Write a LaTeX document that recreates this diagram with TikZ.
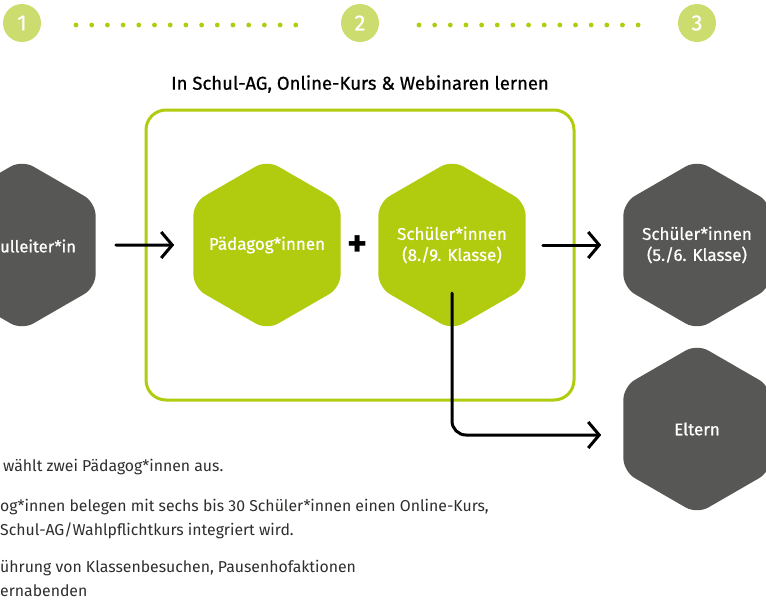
\documentclass[tikz,border=0pt]{standalone}
\usepackage{fontspec}
\setmainfont{Fira Sans}
\newfontfamily\medfont{Fira Sans}[FakeBold=0.7]
\usetikzlibrary{shapes.geometric,arrows.meta}
\definecolor{limeGreen}{HTML}{B1CB0E}
\definecolor{paleLime}{HTML}{CCDC6E}
\definecolor{darkGrey}{HTML}{575756}
\definecolor{textGrey}{HTML}{2E2E2D}

\begin{document}
\begin{tikzpicture}
[x=1pt,y=-1pt,
  hexGreen/.style={shape=regular polygon,regular polygon sides=6,shape border rotate=90,
    minimum size=170pt,inner sep=-16pt,rounded corners=13pt,fill=limeGreen,
    text=white,align=center,font=\medfont\fontsize{17}{21}\selectfont},%
  hexDark/.style={hexGreen,fill=darkGrey},%
  stepNum/.style={shape=circle,fill=paleLime,minimum size=38pt,inner sep=0pt,
    text=white,font=\medfont\fontsize{22}{22}\selectfont},%
  arrowLine/.style={line width=3pt,line cap=round,-{Straight Barb[length=11pt,width=26pt]}},%
  groupFrame/.style={line width=3pt,draw=limeGreen,rounded corners=20pt},%
  bodyText/.style={anchor=base west,inner sep=0pt,text=textGrey,font=\fontsize{15.8}{19}\selectfont}]
\useasboundingbox (0,0) rectangle (766,600);
\clip (0,0) rectangle (766,600);
%% steps on top
\foreach \nodename/\x/\num in {stepa/22/1, stepb/360/2, stepc/697/3}
{
  \node (\nodename) at (\x,23) [stepNum] {\num};
}
\foreach \i in {0,...,14}
{
  \fill[limeGreen] ({76+\i*15.7},25) circle (2.4pt);
  \fill[limeGreen] ({419+\i*15.65},25) circle (2.4pt);
}
%% group frame
\node (title) at (360,84) [font=\medfont\fontsize{18.5}{22}\selectfont] {In Schul-AG, Online-Kurs \& Webinaren lernen};
\draw[groupFrame] (146,110) rectangle (574,400);
%% the hexagons
\node (lead) at (22,245) [hexDark] {};
\node (leadtext) at (0,246) [anchor=west,inner sep=0pt,text=white,font=\medfont\fontsize{16.5}{21}\selectfont] {ulleiter*in};
\node (paed) at (267,245) [hexGreen] {Pädagog*innen};
\node (older) at (452,245) [hexGreen] {Schüler*innen\\(8./9. Klasse)};
\node (younger) at (697,245) [hexDark] {Schüler*innen\\(5./6. Klasse)};
\node (parents) at (697,429) [hexDark] {Eltern};
\node (plus) at (358,246) [font=\bfseries\fontsize{38}{38}\selectfont] {+};
%% the arrows
\draw[arrowLine] ([xshift=20pt]lead.east) -- ([xshift=-19pt]paed.west);
\draw[arrowLine] ([xshift=17pt]older.east) -- ([xshift=-22pt]older.east -| younger.west);
\coordinate (branch) at ([yshift=-48pt]older.center);
\draw[arrowLine,rounded corners=14pt] (branch) |- ([xshift=-22pt,yshift=-6pt]parents.west);
%% the text below
\foreach \nodename/\x/\y/\words in {texta/3/471/{wählt zwei Pädagog*innen aus.},
  textb/0/511/{og*innen belegen mit sechs bis 30 Schüler*innen einen Online-Kurs,},
  textc/0/535/{Schul-AG/Wahlpflichtkurs integriert wird.},
  textd/0/572/{ührung von Klassenbesuchen, Pausenhofaktionen},
  texte/0/596/{ernabenden}}
{
  \node (\nodename) at (\x,\y) [bodyText] {\words};
}
\end{tikzpicture}
\end{document}
